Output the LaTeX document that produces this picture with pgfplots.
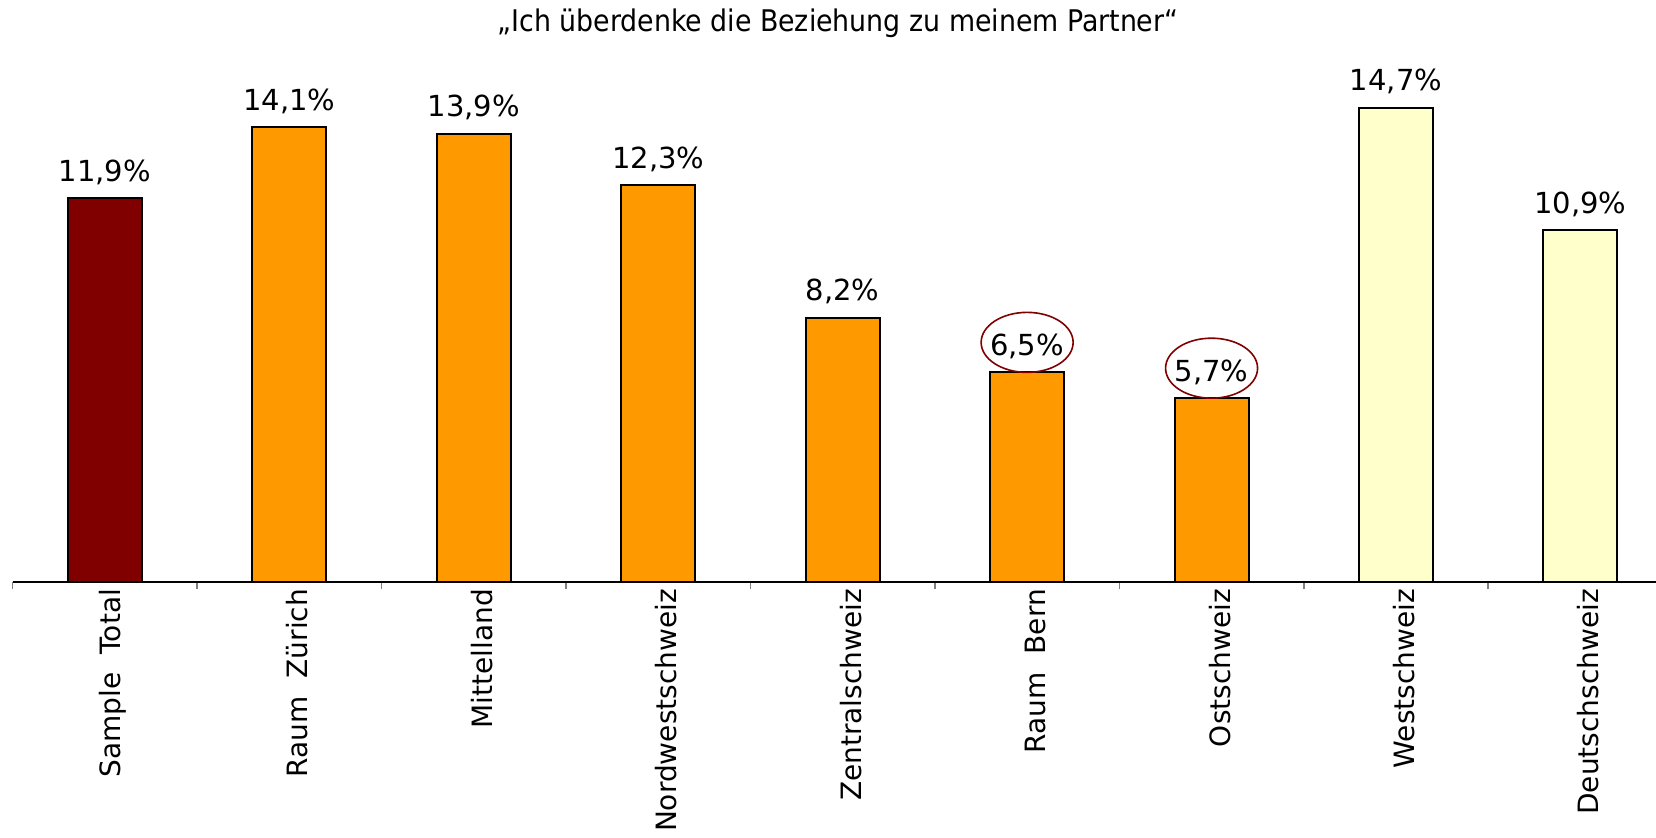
\documentclass[border=0pt]{standalone}
\usepackage{pgfplots}
\pgfplotsset{compat=1.18}
\usepackage{fontspec}
\setmainfont{DejaVu Sans}
\newfontfamily\titlefont{DejaVu Sans Condensed}
\definecolor{darkred}{HTML}{800000}
\definecolor{orangebar}{HTML}{FF9900}
\definecolor{paleyellow}{HTML}{FFFFCC}
\begin{document}
\begin{tikzpicture}
\begin{axis}[
  at={(6.35pt,127.5pt)}, anchor=south west,
  scale only axis, width=830pt, height=290.25pt,
  xmin=-0.5, xmax=8.5, ymin=0, ymax=18,
  axis x line*=bottom, axis y line=none,
  xtick={0,...,8},
  xticklabels={Sample\hspace{0.65em}Total, Raum\hspace{0.65em}Zürich, Mittelland, Nordwestschweiz, Zentralschweiz, Raum\hspace{0.65em}Bern, Ostschweiz, Westschweiz, Deutschschweiz},
  major tick length=0pt,
  minor xtick={-0.5,0.5,...,8.5},
  minor tick length=3.5pt,
  tick align=outside,
  minor tick style={gray, line width=0.8pt},
  axis line style={black, line width=0.8pt},
  x tick label style={rotate=90, anchor=east, font=\fontsize{14}{17}\selectfont, yshift=-4pt},
  ybar, bar width=37pt, bar shift=0pt,
  point meta=y,
  nodes near coords={\pgfmathprintnumber[use comma, fixed, fixed zerofill, precision=1, assume math mode=true]{\pgfplotspointmeta}\%},
  nodes near coords style={font=\fontsize{14.5}{17}\selectfont, black, yshift=3pt},
  clip=false,
]
\addplot[fill=darkred, draw=black, line width=1pt] coordinates {(0,11.9)};
\addplot[fill=orangebar, draw=black, line width=1pt] coordinates {(1,14.1) (2,13.9) (3,12.3) (4,8.2) (5,6.5) (6,5.7)};
\addplot[fill=paleyellow, draw=black, line width=1pt] coordinates {(7,14.7) (8,10.9)};
\draw[darkred, line width=0.8pt] ([yshift=15pt]axis cs:5,6.5) ellipse [x radius=23pt, y radius=15pt];
\draw[darkred, line width=0.8pt] ([yshift=15pt]axis cs:6,5.7) ellipse [x radius=23pt, y radius=15pt];
\end{axis}
\node[font=\titlefont\fontsize{14.9}{17}\selectfont] at (419pt,407pt) {„Ich überdenke die Beziehung zu meinem Partner“};
\pgfresetboundingbox
\path[use as bounding box] (0,0) rectangle (828pt,418.5pt);
\end{tikzpicture}
\end{document}
